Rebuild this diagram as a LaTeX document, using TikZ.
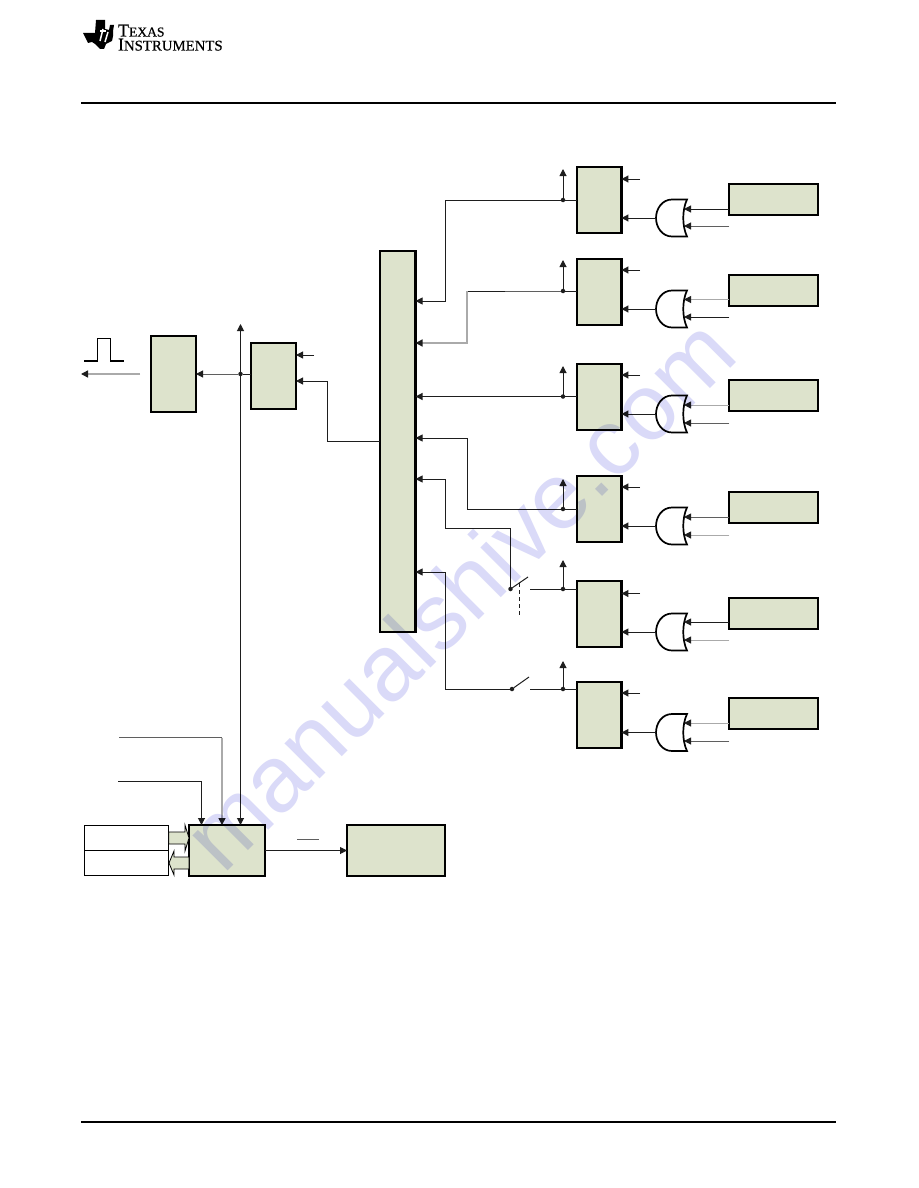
\documentclass[tikz,border=0pt]{standalone}
\usepackage{fontspec}
\setmainfont{Liberation Serif}
\newfontfamily\wmfont{Liberation Sans}
\newfontfamily\logofont[FakeBold=0.5]{Liberation Serif}
\usetikzlibrary{arrows.meta,calc}
\definecolor{boxgreen}{RGB}{221,227,204}
\definecolor{wiredark}{RGB}{30,30,30}
\definecolor{wiregray}{RGB}{170,170,170}
\definecolor{wiremid}{RGB}{95,95,95}
\definecolor{wmcolor}{RGB}{218,218,248}
\tikzset{
  x=1pt,y=-1pt,
  box/.style={draw=black,line width=2.2pt,fill=boxgreen,inner sep=0pt,outer sep=0pt},
  plainbox/.style={draw=black,line width=1pt,fill=white,inner sep=0pt,outer sep=0pt},
  wire/.style={draw=wiredark,line width=1pt},
  gwire/.style={draw=wiregray,line width=1.6pt},
  mwire/.style={draw=wiremid,line width=1pt},
  tip/.style={-{Triangle[length=7pt,width=7pt,color=wiredark]}},
  jdot/.style={circle,fill=wiredark,inner sep=0pt,outer sep=0pt,minimum size=4.5pt},
  gateline/.style={draw=black,line width=1.7pt,fill=white},
  rule/.style={draw=black,line width=2pt},
  blockarrow/.style={draw=black,line width=.8pt,fill=boxgreen},
  logotext/.style={inner sep=0pt,outer sep=0pt,anchor=base west,text=black},
}
\begin{document}
\begin{tikzpicture}
\useasboundingbox[fill=white] (0,0) rectangle (918,1188);

% page furniture
\coordinate (ruleAa) at (81,103);
\coordinate (ruleAb) at (836,103);
\coordinate (ruleBa) at (81,1121.5);
\coordinate (ruleBb) at (836,1121.5);
\draw[rule] (ruleAa) -- (ruleAb);
\draw[rule] (ruleBa) -- (ruleBb);

% logo
\fill[black] (96,20) -- (105,20) -- (105,29) -- (109,30) -- (110,25) -- (114,25) -- (113,31) -- (113,36)
  -- (112,41) -- (106,44) -- (104,49) -- (100,49) -- (95,44) -- (92,42) -- (88,43) -- (83,33) -- (95,33) -- cycle;
\draw[white,line width=1.5pt] (103,29) -- (100,41);
\draw[white,line width=1.3pt] (100,31) -- (106,31);
\draw[white,line width=1.5pt] (108,32) -- (105,42);
\node[logotext] (logoA) at (118,36.5) {\logofont\fontsize{18}{18}\selectfont T\fontsize{13.6}{14}\selectfont EXAS};
\node[logotext] (logoB) at (118,50.5) {\logofont\fontsize{18}{18}\selectfont I\fontsize{14.8}{15}\selectfont NSTRUMENTS};

% bus
\node[box,minimum width=35.5pt,minimum height=381pt] (bus) at (397.8,441.5) {};
\foreach \n/\y in {1/301,2/343,3/396.5,4/438,5/479,6/572}
  \coordinate (p\n) at (bus.east |- 0,\y);

% right-hand channels
\foreach \i/\c/\j/\t/\s/\g/\ua/\ub/\ca/\cb/\r in {
  1/200/200/169/179/218/209/226/wiredark/wiremid/199.5,
  2/292/291/260/270/309/299.5/317/wiregray/wiredark/290.5,
  3/397/396.5/366/375/414/405/423/wiregray/wiremid/395.5,
  4/509/509/479/487/526/517/535/wiremid/wiregray/507.5,
  5/614/589/560/593.5/632/622/640/wiredark/wiregray/613.5,
  6/715/689/661/693/732.5/723/741/wiregray/wiremid/713.5}{
  \node[box,minimum width=44.5pt,minimum height=66pt] (b\i) at (599.2,\c) {};
  \node[box,minimum width=88.5pt,minimum height=31pt] (r\i) at (773.5,\r) {};
  \coordinate (j\i) at (563,\j);
  \coordinate (u\i) at (563,\t);
  \coordinate (s\i) at (640,\s);
  \coordinate (g\i) at (656,\g);
  \coordinate (ga\i) at (684,\ua);
  \coordinate (gb\i) at (684,\ub);
  \begin{scope}[shift={(g\i)}]
    \draw[gateline] (16,-18.5) -- (31,-18.5) .. controls (26,-8) and (26,8) .. (31,18.5) -- (16,18.5)
      .. controls (6,18.5) and (0,9) .. (0,0) .. controls (0,-9) and (6,-18.5) .. (16,-18.5) -- cycle;
  \end{scope}
  \draw[wire,tip] (j\i) -- (u\i);
  \draw[wire,tip] (s\i) -- (b\i.east |- s\i);
  \draw[wire,tip] (g\i) -- (b\i.east |- g\i);
  \draw[draw=\ca,line width=1pt,tip] (r\i.west |- ga\i) -- (ga\i);
  \draw[draw=\cb,line width=1pt,tip] (r\i.west |- gb\i) -- (gb\i);
  \node[jdot] (jd\i) at (j\i) {};
}

% channel wires to the bus
\draw[wire,tip] (b1.west |- j1) -- (jd1) -- (445,200) |- (p1);
\draw[wire] (jd2) -- (b2.west |- j2);
\draw[mwire] (jd2) -- (505,291);
\draw[wire] (505,291) -- (467,291);
\draw[gwire,tip] (467,291) |- (p2);
\draw[wire,line width=1.3pt,tip] (b3.west |- j3) -- (jd3) -- (p3);
\draw[wire,tip] (b4.west |- j4) -- (jd4) -- (467.5,509) |- (p4);

% switches
\node[jdot] (swA) at (510.5,589) {};
\node[jdot] (swB) at (512,689) {};
\coordinate (swAblade) at (528,577);
\coordinate (swBblade) at (529,677);
\coordinate (swAdash) at (519.5,583);
\coordinate (swAdashend) at (519.5,615);
\draw[wire] (swA) -- (swAblade);
\draw[wire] (swB) -- (swBblade);
\draw[wire,dashed,dash pattern=on 4pt off 3pt] (swAdash) -- (swAdashend);
\draw[wire] (530,589) -- (jd5) -- (b5.west |- j5);
\draw[wire] (530,689) -- (jd6) -- (b6.west |- j6);
\draw[wire,tip] (swA) -- (510.5,528) -- (445,528) |- (p5);
\draw[wire,tip] (swB) -- (445,689) |- (p6);

% pulse section
\node[box,minimum width=45pt,minimum height=76pt] (pA) at (173.5,374) {};
\node[box,minimum width=45pt,minimum height=66pt] (pB) at (273.5,376) {};
\node[jdot] (pJ) at (240.5,374) {};
\coordinate (pTop) at (240.5,324);
\coordinate (pSmall) at (314,355);
\coordinate (pBend) at (327.5,441);
\coordinate (pOutA) at (140,374);
\coordinate (pOutB) at (81,374);
\draw[gwire,line width=1.4pt,tip] (pOutA) -- (pOutB);
\draw[line width=1.4pt,draw=black] (84,361) -- (97.5,361) -- (97.5,338.5) -- (110.5,338.5) -- (110.5,361) -- (124,361);
\draw[wire] (pB.west |- pJ) -- (pJ);
\draw[mwire,tip] (pJ) -- (pA.east |- pJ);
\draw[wire,tip] (pSmall) -- (pB.east |- pSmall);
\draw[wire,tip] (bus.west |- pBend) -- (pBend) -- (327.5,381) -- (pB.east |- 0,381);

% bottom section
\node[plainbox,minimum width=84.5pt,minimum height=25pt] (mA) at (126.5,838) {};
\node[plainbox,minimum width=84.5pt,minimum height=25pt] (mB) at (126.5,863) {};
\node[box,minimum width=76pt,minimum height=51pt] (ctl) at (227,850.5) {};
\node[box,minimum width=98pt,minimum height=51pt] (drv) at (396,850.5) {};
\draw[wire,{Triangle[length=7pt,width=7pt,color=wiredark]}-{Triangle[length=7pt,width=7pt,color=wiredark]}] (pTop) -- (ctl.north -| pTop);
\coordinate (inA) at (118,781);
\coordinate (inB) at (119,737.5);
\draw[wire,tip] (inA) -- (201.5,781) -- (ctl.north -| 201.5,0);
\draw[mwire,line width=.9pt] (inB) -- (222,737.5);
\draw[gwire,tip] (222,737.5) -- (ctl.north -| 222,0);
\draw[wire,tip] (ctl.east) -- (drv.west);
\coordinate (barA) at (297,839);
\coordinate (barB) at (319,839);
\draw[mwire,line width=.8pt] (barA) -- (barB);
\draw[blockarrow] (mA.east |- 0,832) -- (185,832) -- (185,825) -- (189,838) -- (185,851) -- (185,844) -- (mA.east |- 0,844) -- cycle;
\draw[blockarrow] (ctl.west |- 0,857) -- (174,857) -- (174,851) -- (169,863) -- (174,875) -- (174,869) -- (ctl.west |- 0,869) -- cycle;

% watermark
\begin{scope}[blend mode=multiply]
\node[rotate=45,anchor=base,inner sep=0pt,text=wmcolor] (wm) at (482,617)
  {\wmfont\fontsize{94}{94}\selectfont manualshive.com};
\end{scope}
\end{tikzpicture}
\end{document}
